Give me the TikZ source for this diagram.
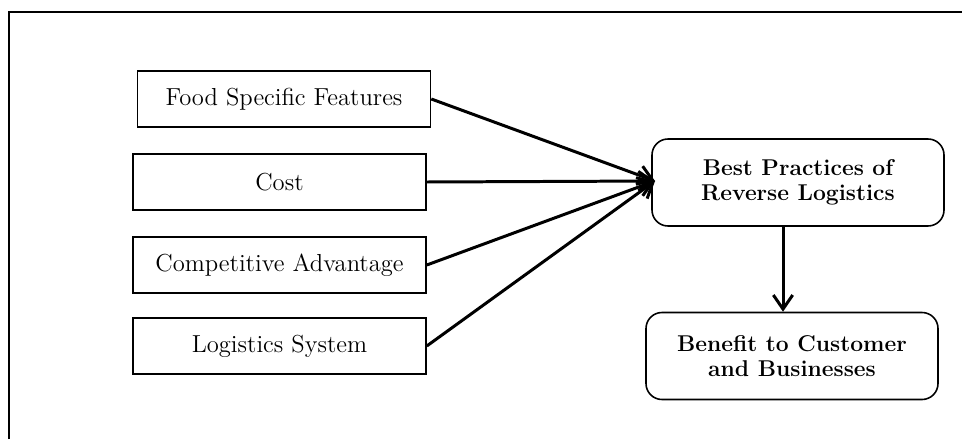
\documentclass[tikz,border=0pt]{standalone}
\usepackage{tikz}
\usetikzlibrary{arrows.meta}

\tikzset{
  factor/.style={draw,line width=0.9pt,minimum width=293*0.02cm,minimum height=56*0.02cm,
    inner sep=0pt,font=\fontsize{14}{16}\selectfont},
  result/.style={draw,line width=0.9pt,rounded corners=16*0.02cm,minimum width=292*0.02cm,
    minimum height=87*0.02cm,align=center,inner sep=0pt,font=\bfseries\fontsize{13}{14}\selectfont},
  arr/.style={line width=1.7pt,-{Straight Barb[length=8pt,width=11pt,line width=1.7pt]}}
}

\begin{document}
\begin{tikzpicture}[x=0.02cm,y=-0.02cm]
	\useasboundingbox (0,0) rectangle (962,439);
	% outer frame (only top and left edges show)
	\draw[line width=1.3pt] (9,439) -- (9,12) -- (962,12);
	% factors on the left
	\node[factor] (food) at (284,99) {Food Specific Features};
	\node[factor] (cost) at (279.5,182) {Cost};
	\node[factor] (compet) at (279.5,265) {Competitive Advantage};
	\node[factor] (logsys) at (279.5,346) {Logistics System};
	% outcomes on the right
	\node[result] (best) at (798,182.5) {Best Practices of\\Reverse Logistics};
	\node[result] (benefit) at (792,356) {Benefit to Customer\\and Businesses};
	\coordinate (hub) at (655,181);
	\coordinate (dnx) at (783,0);
	\draw[arr] (food.east) -- (hub);
	\draw[arr] (cost.east) -- (hub);
	\draw[arr] (compet.east) -- (hub);
	\draw[arr] (logsys.east) -- (hub);
	\draw[arr] (best.south -| dnx) -- (benefit.north -| dnx);
\end{tikzpicture}
\end{document}
